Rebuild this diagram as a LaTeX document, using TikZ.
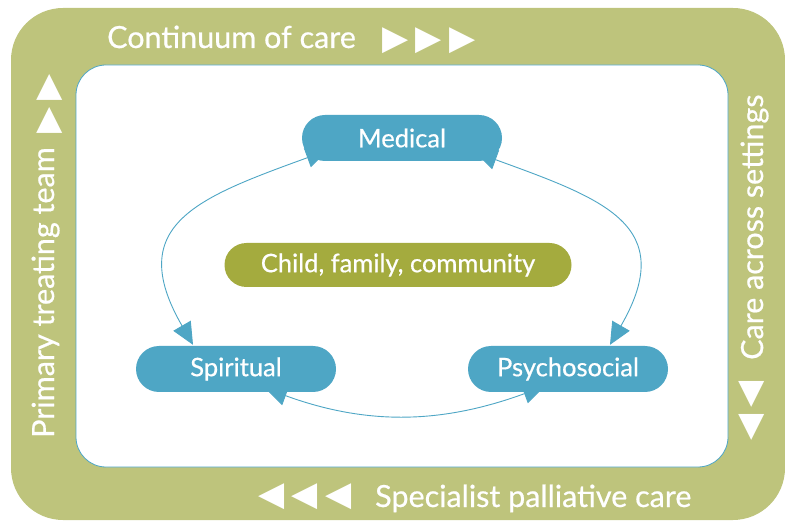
\documentclass[tikz,border=0pt]{standalone}
\usepackage{fontspec}
\setmainfont{Lato}[FakeBold=0.6,AutoFakeBold=0.6]
\newfontfamily\trifont{DejaVu Sans}
\usetikzlibrary{positioning,arrows.meta,shapes.misc}

\definecolor{frameGreen}{HTML}{BEC47C}
\definecolor{hubGreen}{HTML}{A4AB3E}
\definecolor{careBlue}{HTML}{4EA6C5}

\pgfdeclarelayer{back}
\pgfdeclarelayer{links}
\pgfsetlayers{back,links,main}

\tikzset{
  carebox/.style={rounded rectangle, fill=careBlue, text=white, minimum width=200pt, minimum height=46pt, inner sep=0pt, font=\fontsize{25.5}{30}\selectfont\bfseries},
  hubbox/.style={carebox, fill=hubGreen, minimum width=347pt, minimum height=44pt},
  bandlabel/.style={text=white, inner sep=0pt, font=\fontsize{30.5}{34}\selectfont\bfseries},
  bandtris/.style={text=white, inner sep=0pt, font=\trifont\fontsize{34}{38}\selectfont},
  loopline/.style={careBlue, line width=0.9pt, {Triangle[length=22pt,width=20pt]}-{Triangle[length=22pt,width=20pt]}},
}

\begin{document}
\begin{tikzpicture}[x=1pt,y=1pt]
\useasboundingbox (0,0) rectangle (785,520);
% frame and inner panel
\begin{pgfonlayer}{back}
  \fill[frameGreen, rounded corners=52pt] (11,0) rectangle (785,512);
  \draw[careBlue, fill=white, line width=0.8pt, rounded corners=30pt] (76,53) rectangle (728,455);
\end{pgfonlayer}

% care domains
\node[carebox] (medical) at (402,382) {Medical};
\node[hubbox] (hub) at (398,255) {Child, family, community};
\node[carebox] (spiritual) at (236,151) {Spiritual};
\node[carebox] (psychosocial) at (568,151) {Psychosocial};

% cycle between domains
\begin{pgfonlayer}{links}
  \draw[loopline] ([xshift=-43pt,yshift=1pt]spiritual.north) to[out=120,in=200,looseness=1.5] ([xshift=3pt,yshift=11pt]medical.south west);
  \draw[loopline] ([xshift=-4pt,yshift=9pt]medical.south east) to[out=-20,in=60,looseness=1.5] ([xshift=42pt,yshift=1pt]psychosocial.north);
  \draw[loopline] ([xshift=29pt,yshift=4pt]spiritual.south) to[out=-20,in=200] ([xshift=-23pt,yshift=6pt]psychosocial.south);
\end{pgfonlayer}

% band labels
\node[bandlabel, anchor=base west] (continuum) at (107,472) {Continuum of care};
\node[bandtris] (continuumtris) at (429,479) {▶\hspace{7pt}▶\hspace{7pt}▶};
\node[bandlabel, rotate=90, anchor=base west] (primary) at (54,82) {Primary treating team};
\node[bandtris, rotate=90] (primarytris) at (50,416) {▶\hspace{7pt}▶};
\node[bandlabel, rotate=90, anchor=base west] (settings) at (763,160) {Care across settings};
\node[bandtris, rotate=90] (settingstris) at (752,109) {◀\hspace{7pt}◀};
\node[bandlabel, anchor=base west] (specialist) at (375,13) {Specialist palliative care};
\node[bandtris] (specialisttris) at (305,23) {◀\hspace{7pt}◀\hspace{7pt}◀};
\end{tikzpicture}
\end{document}
